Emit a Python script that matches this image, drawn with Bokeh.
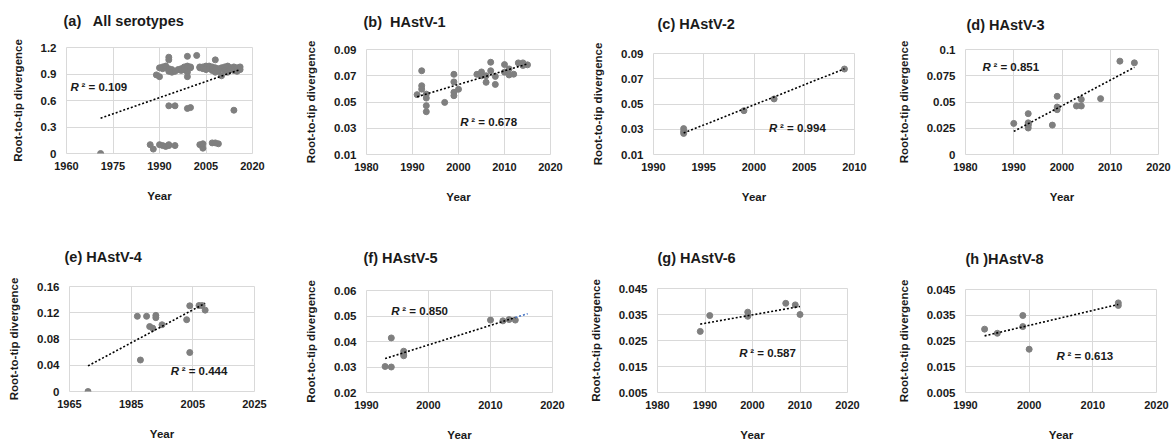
from bokeh.plotting import figure
from bokeh.layouts import row, column
from bokeh.models import Range1d, FixedTicker, Title
from bokeh.embed import file_html
from bokeh.resources import INLINE
from bokeh.core.properties import value

# ---------------- data ----------------
a_year = [1989, 1990, 1990, 1991, 1991, 1992, 1992, 1993, 1993, 1993, 1993, 1994, 1994, 1995,
          1996, 1997, 1997, 1998, 1998, 1999, 1999, 1999, 1999, 2000, 2000, 2002, 2003, 2003,
          2004, 2004, 2005, 2005, 2005, 2006, 2006, 2006, 2007, 2007, 2007, 2008, 2008, 2008,
          2009, 2009, 2010, 2010, 2011, 2011, 2012, 2012, 2013, 2013, 2014, 2014, 2015, 2015,
          2016, 2016,
          1993, 1995, 1999, 2000, 2014,
          1971, 1987, 1988, 1990, 1991, 1992, 1993, 1993, 1995, 2003, 2004, 2004, 2007, 2008, 2009]
a_div = [0.89, 0.87, 0.97, 0.98, 0.96, 0.97, 0.99, 1.09, 1.06, 0.96, 0.93, 0.95, 0.92, 0.93,
         0.95, 0.96, 0.94, 0.98, 0.95, 1.10, 0.99, 0.92, 0.87, 0.98, 0.97, 1.11, 0.97, 0.98,
         0.96, 0.98, 0.99, 0.97, 0.95, 0.97, 0.99, 0.96, 0.98, 0.94, 0.96, 1.06, 0.92, 0.97,
         0.96, 0.93, 0.88, 0.97, 0.98, 0.94, 0.99, 0.92, 0.97, 0.95, 0.98, 0.94, 0.97, 0.93,
         0.98, 0.95,
         0.54, 0.54, 0.51, 0.52, 0.49,
         0.0, 0.10, 0.05, 0.10, 0.09, 0.08, 0.09, 0.10, 0.09, 0.10, 0.06, 0.11, 0.12, 0.12, 0.11]
a_trend_x = [1971, 2016]
a_trend_y = [0.40, 0.95]

b_year = [1991, 1992, 1992, 1992, 1993, 1993, 1993, 1993, 1997, 1999, 1999, 1999, 1999, 2000,
          2004, 2005, 2005, 2006, 2006, 2007, 2007, 2008, 2008, 2010, 2010, 2011, 2011, 2012,
          2013, 2014, 2014, 2015]
b_div = [0.0556, 0.0738, 0.0624, 0.0598, 0.0560, 0.0530, 0.0472, 0.0426, 0.0497, 0.0711,
         0.0653, 0.0574, 0.0548, 0.0597, 0.0711, 0.0729, 0.0700, 0.0700, 0.0650, 0.0803,
         0.0738, 0.0695, 0.0634, 0.0785, 0.0727, 0.0752, 0.0706, 0.0712, 0.0798, 0.0798,
         0.0778, 0.0783]
b_trend_x = [1991, 2015]
b_trend_y = [0.0540, 0.0790]

c_year = [1993, 1993, 1993, 1999, 2002, 2009]
c_div = [0.0305, 0.0283, 0.0267, 0.0447, 0.0540, 0.0777]
c_trend_x = [1993, 2009]
c_trend_y = [0.0270, 0.0779]

d_year = [1990, 1993, 1993, 1993, 1993, 1993, 1998, 1999, 1999, 1999, 2003, 2004, 2004, 2008,
          2012, 2015]
d_div = [0.0296, 0.0389, 0.0302, 0.0290, 0.0277, 0.0252, 0.0280, 0.0554, 0.0452, 0.0427,
         0.0462, 0.0462, 0.0525, 0.0532, 0.0889, 0.0873]
d_trend_x = [1990, 2015]
d_trend_y = [0.0220, 0.0830]

e_year = [1971, 1987, 1988, 1990, 1991, 1992, 1993, 1993, 1995, 2003, 2004, 2004, 2007, 2008, 2009]
e_div = [0.0, 0.1146, 0.0480, 0.1146, 0.0990, 0.0965, 0.1160, 0.1125, 0.1017, 0.1094,
         0.1306, 0.0594, 0.1310, 0.1310, 0.1240]
e_trend_x = [1971, 2009]
e_trend_y = [0.039, 0.1345]

f_year = [1993, 1994, 1994, 1996, 1996, 1996, 2010, 2012, 2013, 2014]
f_div = [0.0302, 0.0300, 0.0414, 0.0362, 0.0351, 0.0344, 0.0484, 0.0481, 0.0486, 0.0484]
f_trend_x = [1993, 2014]
f_trend_y = [0.0333, 0.0494]
f_forecast_x = [2014, 2016]
f_forecast_y = [0.0494, 0.0509]

g_year = [1989, 1991, 1999, 1999, 2007, 2009, 2010]
g_div = [0.0285, 0.0346, 0.0359, 0.0343, 0.0393, 0.0387, 0.0350]
g_trend_x = [1989, 2010]
g_trend_y = [0.0313, 0.0381]

h_year = [1993, 1995, 1999, 1999, 2000, 2014, 2014]
h_div = [0.0296, 0.0280, 0.0349, 0.0306, 0.0218, 0.0398, 0.0388]
h_trend_x = [1993, 2014]
h_trend_y = [0.0270, 0.0392]

titles = ["(a)\u00a0\u00a0 All serotypes", "(b)\u00a0 HAstV-1", "(c) HAstV-2", "(d) HAstV-3",
          "(e) HAstV-4", "(f) HAstV-5", "(g) HAstV-6", "(h )HAstV-8"]
r2_values = ["0.109", "0.678", "0.994", "0.851", "0.444", "0.850", "0.587", "0.613"]

x_ticks = [[1960, 1975, 1990, 2005, 2020], [1980, 1990, 2000, 2010, 2020],
           [1990, 1995, 2000, 2005, 2010], [1980, 1990, 2000, 2010, 2020],
           [1965, 1985, 2005, 2025], [1990, 2000, 2010, 2020],
           [1980, 1990, 2000, 2010, 2020], [1990, 2000, 2010, 2020]]
y_ticks = [[0, 0.3, 0.6, 0.9, 1.2], [0.01, 0.03, 0.05, 0.07, 0.09],
           [0.01, 0.03, 0.05, 0.07, 0.09], [0, 0.025, 0.05, 0.075, 0.1],
           [0, 0.04, 0.08, 0.12, 0.16], [0.02, 0.03, 0.04, 0.05, 0.06],
           [0.005, 0.015, 0.025, 0.035, 0.045], [0.005, 0.015, 0.025, 0.035, 0.045]]
y_tick_labels = [["0", "0.3", "0.6", "0.9", "1.2"], ["0.01", "0.03", "0.05", "0.07", "0.09"],
                 ["0.01", "0.03", "0.05", "0.07", "0.09"], ["0", "0.025", "0.05", "0.075", "0.1"],
                 ["0", "0.04", "0.08", "0.12", "0.16"], ["0.02", "0.03", "0.04", "0.05", "0.06"],
                 ["0.005", "0.015", "0.025", "0.035", "0.045"],
                 ["0.005", "0.015", "0.025", "0.035", "0.045"]]

# ---------------- layout / style ----------------
FONT = "Liberation Sans"
TXT = "#1a1a1a"
DOT = "#7f7f7f"
GRID = "#d9d9d9"

# (width, height, left, right, top, bottom, title dx, spacer standoff, r2 x, r2 y)
layout = [
    (293, 221, 66, 41, 47, 68, -3, 16, 1961.3, 0.75),
    (293, 221, 73, 36, 49, 67, -3, 17, 2000.4, 0.0351),
    (294, 221, 67, 26, 53, 67, 4, 19, 2001.5, 0.0306),
    (294, 221, 85, 16, 49, 67, 1, 14, 1983.5, 0.0829),
    (293, 222, 69, 39, 65, 52, -5, 19, 1997.8, 0.032),
    (293, 222, 73, 34, 69, 49, -3, 22, 1994.0, 0.0519),
    (294, 222, 68, 33, 67, 48, 0, 20, 1997.2, 0.0201),
    (294, 222, 85, 18, 68, 47, 0, 20, 2004.3, 0.0192),
]

series = [(a_year, a_div, a_trend_x, a_trend_y), (b_year, b_div, b_trend_x, b_trend_y),
          (c_year, c_div, c_trend_x, c_trend_y), (d_year, d_div, d_trend_x, d_trend_y),
          (e_year, e_div, e_trend_x, e_trend_y), (f_year, f_div, f_trend_x, f_trend_y),
          (g_year, g_div, g_trend_x, g_trend_y), (h_year, h_div, h_trend_x, h_trend_y)]

figs = []
for i in range(8):
    w, h, bl, br, bt, bb, tdx, sst, rx, ry = layout[i]
    xs, ys, tx, ty = series[i]
    xt, yt, yl = x_ticks[i], y_ticks[i], y_tick_labels[i]
    p = figure(width=w, height=h, output_backend="svg", toolbar_location=None,
               x_range=Range1d(xt[0], xt[-1]), y_range=Range1d(yt[0], yt[-1]),
               min_border_left=bl, min_border_right=br, min_border_top=bt, min_border_bottom=bb,
               title=titles[i])
    p.background_fill_color = "white"
    p.border_fill_color = "white"
    p.outline_line_color = GRID
    p.outline_line_width = 1

    # the main title sits outermost; a tiny spacer title between it and the frame
    p.title.text_font = FONT
    p.title.text_font_size = "14.5px"
    p.title.text_font_style = "bold"
    p.title.text_color = TXT
    p.title.align = "left"
    p.title.offset = tdx
    p.title.standoff = 0
    p.title.vertical_align = "bottom"
    p.add_layout(Title(text=" ", text_font_size="1px", standoff=sst), "above")

    p.xaxis.ticker = FixedTicker(ticks=xt)
    p.yaxis.ticker = FixedTicker(ticks=yt)
    p.yaxis.major_label_overrides = {t: s for t, s in zip(yt, yl)}
    p.xaxis.axis_label = "Year"
    p.yaxis.axis_label = "Root-to-tip divergence"
    for ax in (p.xaxis[0], p.yaxis[0]):
        ax.axis_line_color = None
        ax.major_tick_line_color = None
        ax.minor_tick_line_color = None
        ax.major_tick_out = 0
        ax.major_tick_in = 0
        ax.minor_tick_out = 0
        ax.minor_tick_in = 0
        ax.major_label_text_font = FONT
        ax.major_label_text_font_style = "bold"
        ax.major_label_text_color = TXT
        ax.axis_label_text_font = FONT
        ax.axis_label_text_font_style = "bold"
        ax.axis_label_text_font_size = "11.5px"
        ax.axis_label_text_color = TXT
    p.xaxis.major_label_text_font_size = "11px"
    p.yaxis.major_label_text_font_size = "11.5px"
    p.xaxis.major_label_standoff = 8
    p.yaxis.major_label_standoff = 10
    p.xaxis.axis_label_standoff = 17
    p.yaxis.axis_label_standoff = 14

    p.xgrid.grid_line_color = GRID
    p.ygrid.grid_line_color = GRID
    p.xgrid.grid_line_width = 1
    p.ygrid.grid_line_width = 1

    p.scatter(xs, ys, size=6, color=DOT, line_color=DOT, alpha=1.0)
    p.line(tx, ty, line_color="black", line_width=1.6, line_dash="2 2")
    if i == 5:
        p.line(f_forecast_x, f_forecast_y, line_color="#4472c4", line_width=1.6, line_dash="2 2")

    p.text([rx], [ry], text=["R"], text_font=value(FONT), text_font_size="11.5px",
           text_font_style="bold italic", text_color=TXT, text_baseline="middle",
           text_align="left")
    p.text([rx], [ry], text=["\u00b2 = " + r2_values[i]], text_font=value(FONT),
           text_font_size="11.5px", text_font_style="bold", text_color=TXT,
           text_baseline="middle", text_align="left", x_offset=11)
    figs.append(p)

# each figure in its own box so that frames are not aligned across panels
cells = [column(f, spacing=0) for f in figs]
page = column(row(*cells[:4], spacing=0), row(*cells[4:], spacing=0), spacing=0)
open("out.html", "w").write(file_html(page, INLINE))
